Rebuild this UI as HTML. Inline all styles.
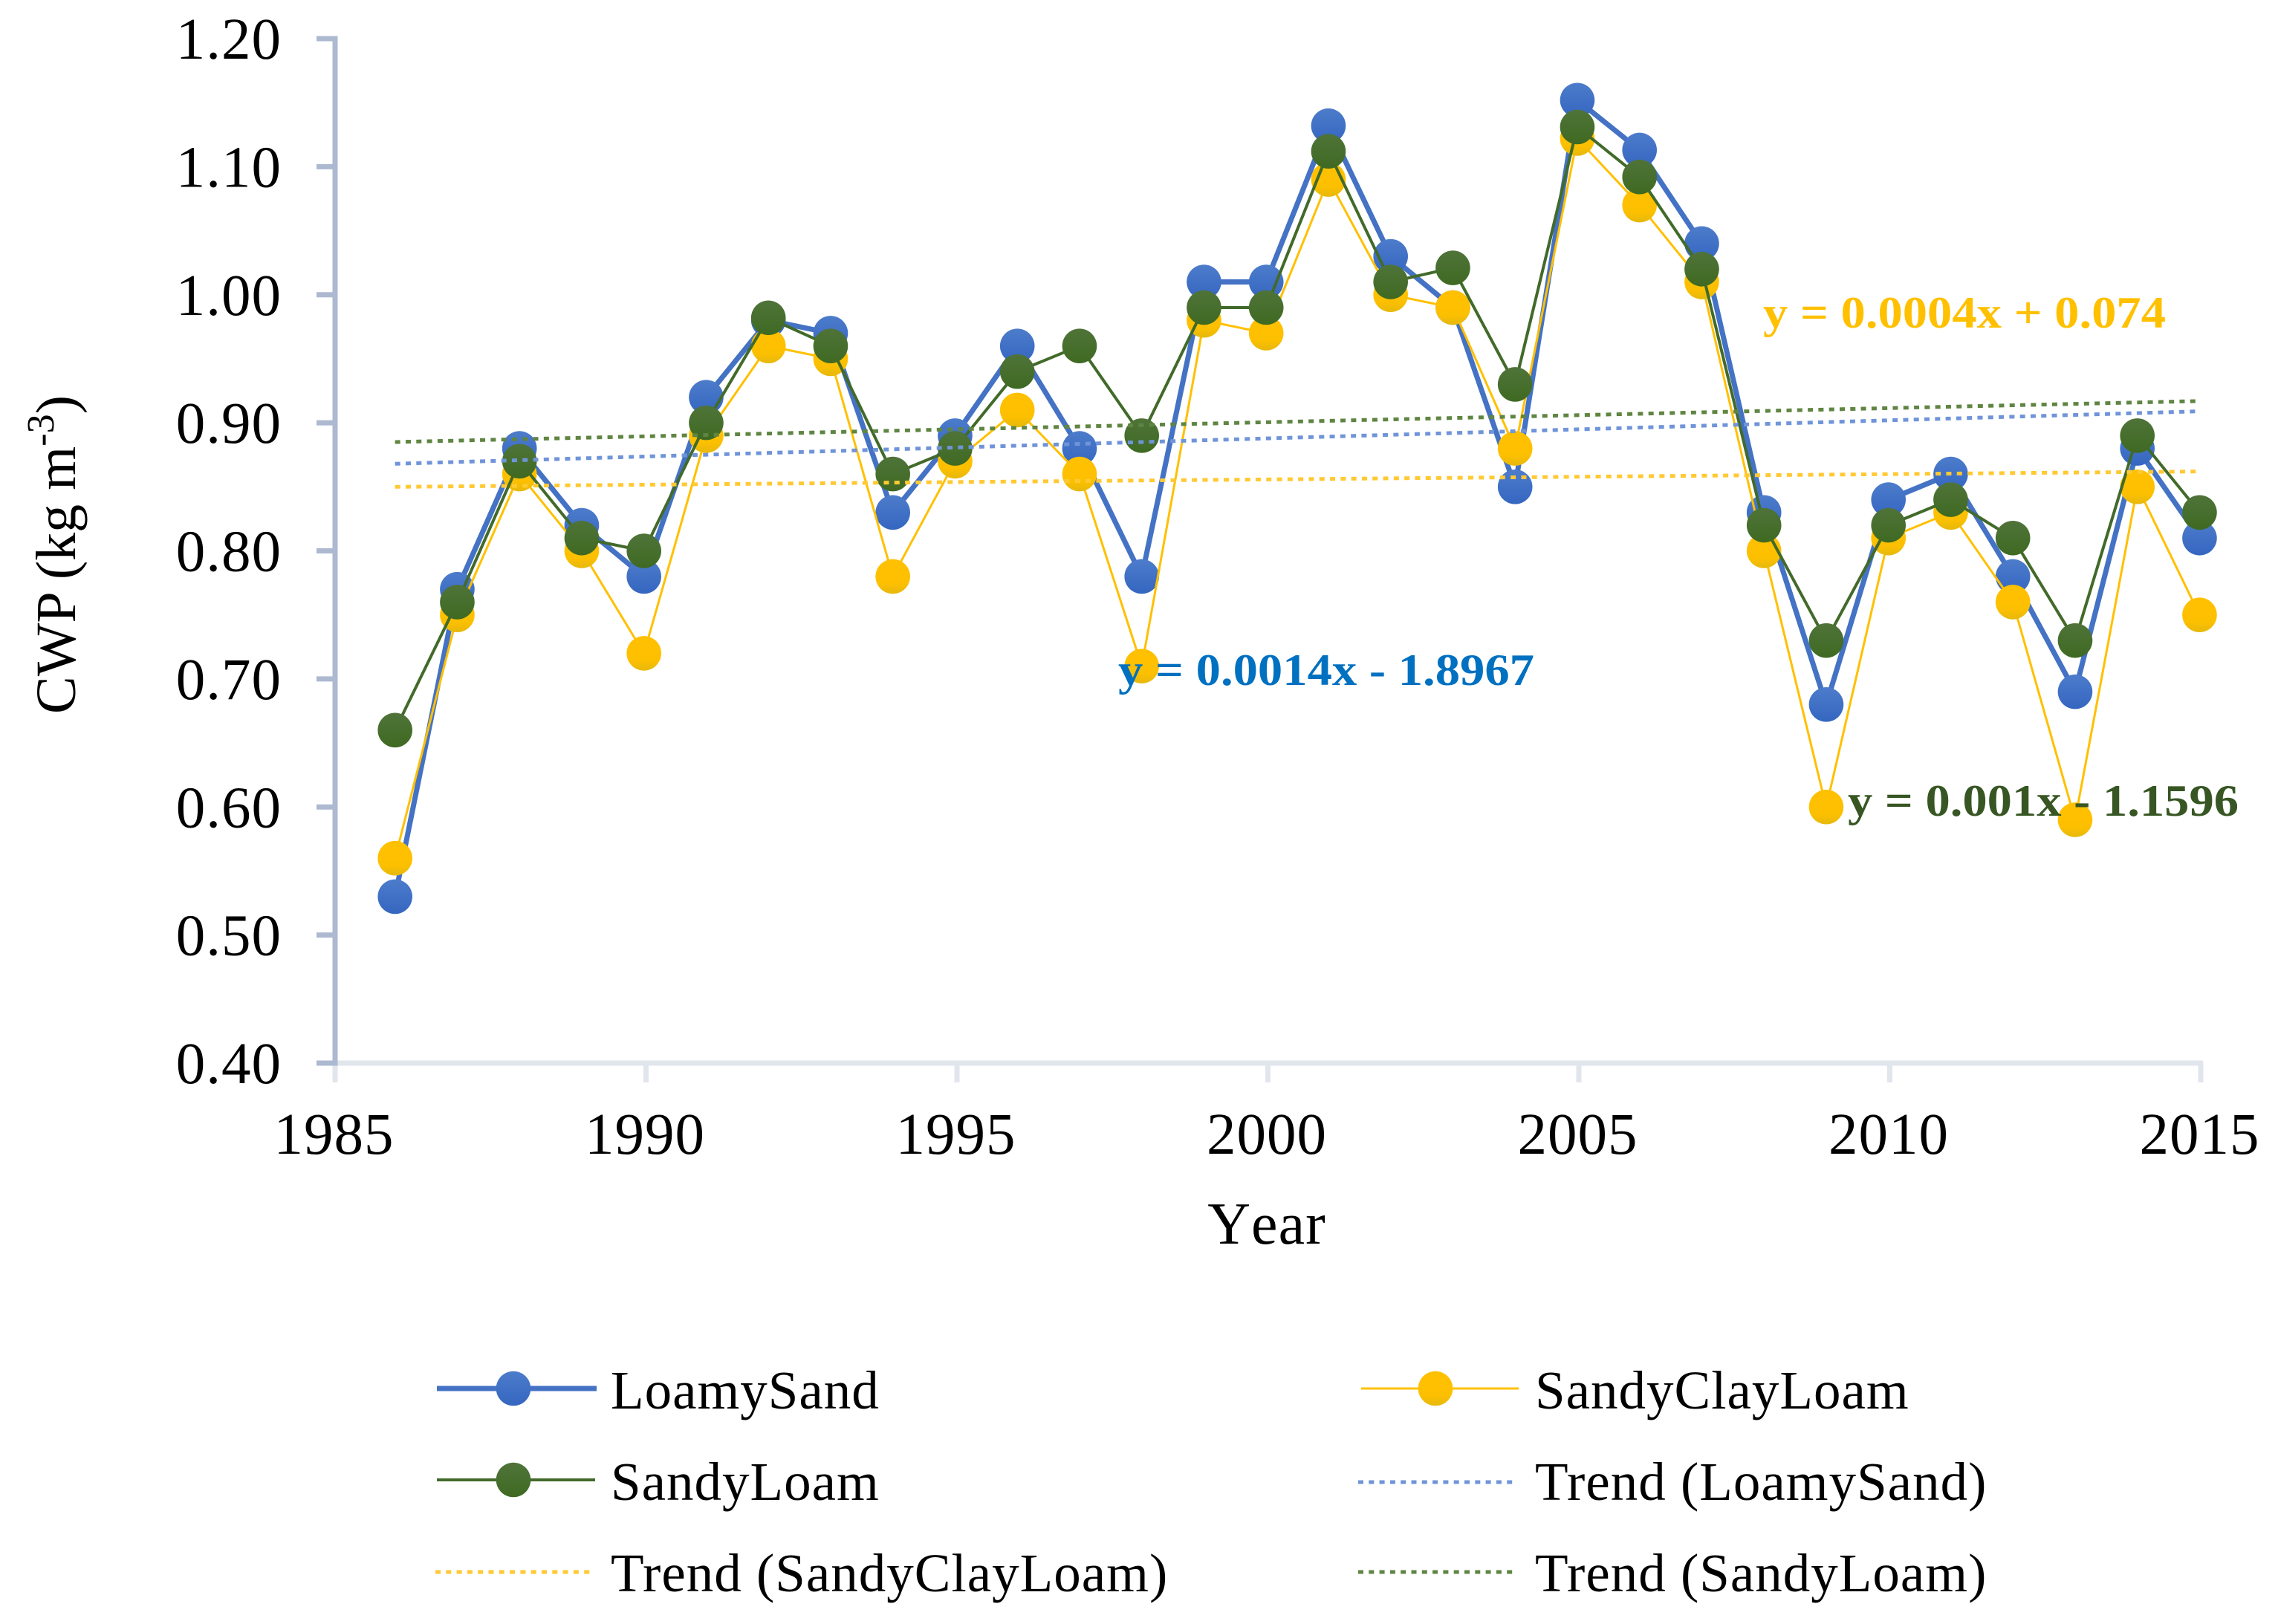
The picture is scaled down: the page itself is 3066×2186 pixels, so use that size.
<!DOCTYPE html>
<html lang="en">
<head>
<meta charset="utf-8">
<title>CWP by Year</title>
<style>
html,body{margin:0;padding:0;background:#fff;}
svg{display:block;}
text{font-family:"Liberation Serif","Times New Roman",serif;fill:#000;}
</style>
</head>
<body>
<svg id="chart" xmlns="http://www.w3.org/2000/svg" width="3066" height="2186" viewBox="0 0 3066 2186">
  <defs>
    <linearGradient id="gBlue" x1="0" y1="0" x2="0" y2="1"><stop offset="0" stop-color="#4d7ccb"/><stop offset="1" stop-color="#3566c0"/></linearGradient>
    <linearGradient id="gYellow" x1="0" y1="0" x2="0" y2="1"><stop offset="0" stop-color="#ffc000"/><stop offset="0.7" stop-color="#fdc000"/><stop offset="1" stop-color="#e6b80c"/></linearGradient>
    <linearGradient id="gGreen" x1="0" y1="0" x2="0" y2="1"><stop offset="0" stop-color="#4f7339"/><stop offset="1" stop-color="#3f6a22"/></linearGradient>
  </defs>
  <g id="axes"></g>
  <g id="series"></g>
  <g id="trends"></g>

  <text transform="translate(101,961) rotate(-90)" font-size="76">CWP (kg m<tspan dy="-29" font-size="52">-3</tspan><tspan dy="29">)</tspan></text>
  <text x="1705" y="1674" text-anchor="middle" font-size="80" letter-spacing="1" style="font-kerning:none">Year</text>

  <text x="2373" y="441" font-size="60" font-weight="bold" textLength="542" lengthAdjust="spacingAndGlyphs" style="fill:#ffc000">y = 0.0004x + 0.074</text>
  <text x="1505" y="922" font-size="60" font-weight="bold" textLength="560" lengthAdjust="spacingAndGlyphs" style="fill:#0070c0">y = 0.0014x - 1.8967</text>
  <text x="2487" y="1098" font-size="60" font-weight="bold" textLength="526" lengthAdjust="spacingAndGlyphs" style="fill:#375623">y = 0.001x - 1.1596</text>

  <g>
    <g>
      <line x1="588" y1="1869" x2="803" y2="1869" stroke="#4472c4" stroke-width="7"/>
      <circle cx="691" cy="1869" r="23.3" fill="url(#gBlue)"/>
      <text x="822" y="1896" font-size="73" letter-spacing="1">LoamySand</text>
    </g>
    <g>
      <line x1="1832" y1="1869" x2="2044" y2="1869" stroke="#ffc000" stroke-width="3"/>
      <circle cx="1932" cy="1869" r="23.3" fill="url(#gYellow)"/>
      <text x="2066" y="1896" font-size="73" letter-spacing="1">SandyClayLoam</text>
    </g>
    <g>
      <line x1="588" y1="1992" x2="801" y2="1992" stroke="#426a2a" stroke-width="4"/>
      <circle cx="691" cy="1992" r="23.3" fill="url(#gGreen)"/>
      <text x="822" y="2019" font-size="73" letter-spacing="1">SandyLoam</text>
    </g>
    <g>
      <line x1="1828" y1="1995" x2="2040" y2="1995" stroke="#6f94d8" stroke-width="5" stroke-dasharray="7 7.3"/>
      <text x="2066" y="2019" font-size="73" letter-spacing="1">Trend (LoamySand)</text>
    </g>
    <g>
      <line x1="586" y1="2116" x2="796" y2="2116" stroke="#ffc933" stroke-width="5" stroke-dasharray="7 7.3"/>
      <text x="822" y="2142" font-size="73" letter-spacing="1">Trend (SandyClayLoam)</text>
    </g>
    <g>
      <line x1="1828" y1="2116" x2="2040" y2="2116" stroke="#5f8542" stroke-width="5" stroke-dasharray="7 7.3"/>
      <text x="2066" y="2142" font-size="73" letter-spacing="1">Trend (SandyLoam)</text>
    </g>
  </g>
</svg>

<script>
const years = [1986,1987,1988,1989,1990,1991,1992,1993,1994,1995,1996,1997,1998,1999,2000,2001,2002,2003,2004,2005,2006,2007,2008,2009,2010,2011,2012,2013,2014,2015];
const loamySand = [0.53,0.77,0.88,0.82,0.78,0.92,0.98,0.97,0.83,0.89,0.96,0.88,0.78,1.01,1.01,1.132,1.03,0.99,0.85,1.152,1.113,1.04,0.83,0.68,0.84,0.86,0.78,0.69,0.88,0.81];
const sandyClayLoam = [0.56,0.75,0.86,0.80,0.72,0.89,0.96,0.95,0.78,0.87,0.91,0.86,0.71,0.98,0.97,1.09,1.00,0.99,0.88,1.122,1.07,1.01,0.80,0.60,0.81,0.83,0.76,0.59,0.85,0.75];
const sandyLoam = [0.66,0.76,0.87,0.81,0.80,0.90,0.982,0.96,0.86,0.88,0.94,0.96,0.89,0.99,0.99,1.112,1.01,1.021,0.93,1.131,1.092,1.02,0.82,0.73,0.82,0.84,0.81,0.73,0.89,0.83];
const trendYears = [1986,2015];
const trendLoamySand = [0.868,0.909];
const trendSandyClayLoam = [0.850,0.862];
const trendSandyLoam = [0.885,0.917];
const yTicks = [0.40,0.50,0.60,0.70,0.80,0.90,1.00,1.10,1.20];
const xTicks = [1985,1990,1995,2000,2005,2010,2015];

const NS = 'http://www.w3.org/2000/svg';
function xScale(year){ return 451 + (year - 1985) * (2962 - 451) / 30; }
function xMark(year){ return 531.7 + (year - 1986) * 83.75; }
function yScale(v){ return 1431 - (v - 0.4) * (1431 - 52) / 0.8; }
function make(tag, attrs, parent){
  const n = document.createElementNS(NS, tag);
  for (const k in attrs) n.setAttribute(k, attrs[k]);
  parent.appendChild(n);
  return n;
}

const axes = document.getElementById('axes');
const seriesLayer = document.getElementById('series');
const trendLayer = document.getElementById('trends');

const xAxis = make('line', {x1:451, y1:yScale(0.4), x2:2965, y2:yScale(0.4), stroke:'#e1e5ec', 'stroke-width':7}, axes);



xTicks.forEach(function(t){
  const tick = make('line', {x1:xScale(t), y1:yScale(0.4), x2:xScale(t), y2:yScale(0.4)+26, stroke:'#e1e5ec', 'stroke-width':7}, axes);
  
  
  const label = make('text', {x:xScale(t)-1.5, y:1553, 'text-anchor':'middle', 'font-size':79, 'letter-spacing':1}, axes);
  label.textContent = String(t);
  
  
});

const yAxis = make('line', {x1:451, y1:yScale(1.2)-3.5, x2:451, y2:yScale(0.4)+3.5, stroke:'#adb9d0', 'stroke-width':7}, axes);



yTicks.forEach(function(t){
  const name = t.toFixed(2);
  const tick = make('line', {x1:426, y1:yScale(t), x2:451, y2:yScale(t), stroke:'#adb9d0', 'stroke-width':7}, axes);
  
  
  const label = make('text', {x:379, y:yScale(t)+27, 'text-anchor':'end', 'font-size':79, 'letter-spacing':1}, axes);
  label.textContent = name;
  
  
});

function drawSeries(key, values, color, width, fill){
  const group = make('g', {}, seriesLayer);
  
  
  const pts = values.map(function(v, i){ return xMark(years[i]).toFixed(1) + ',' + yScale(v).toFixed(1); }).join(' ');
  const line = make('polyline', {points:pts, fill:'none', stroke:color, 'stroke-width':width, 'stroke-linejoin':'round'}, group);
  
  
  values.forEach(function(v, i){
    const dot = make('circle', {cx:xMark(years[i]), cy:yScale(v), r:23.3, fill:fill}, group);
    
    
  });
}

function drawTrend(key, values, color){
  const line = make('line', {x1:xMark(trendYears[0]), y1:yScale(values[0]), x2:xMark(trendYears[1]), y2:yScale(values[1]), stroke:color, 'stroke-width':5, 'stroke-dasharray':'7 7.3'}, trendLayer);
  
  
}

drawSeries('loamysand', loamySand, '#4472c4', 7, 'url(#gBlue)');
drawSeries('sandyclayloam', sandyClayLoam, '#ffc000', 3, 'url(#gYellow)');
drawSeries('sandyloam', sandyLoam, '#426a2a', 4, 'url(#gGreen)');
drawTrend('loamysand', trendLoamySand, '#6f94d8');
drawTrend('sandyclayloam', trendSandyClayLoam, '#ffc933');
drawTrend('sandyloam', trendSandyLoam, '#5f8542');
</script>
</body>
</html>
